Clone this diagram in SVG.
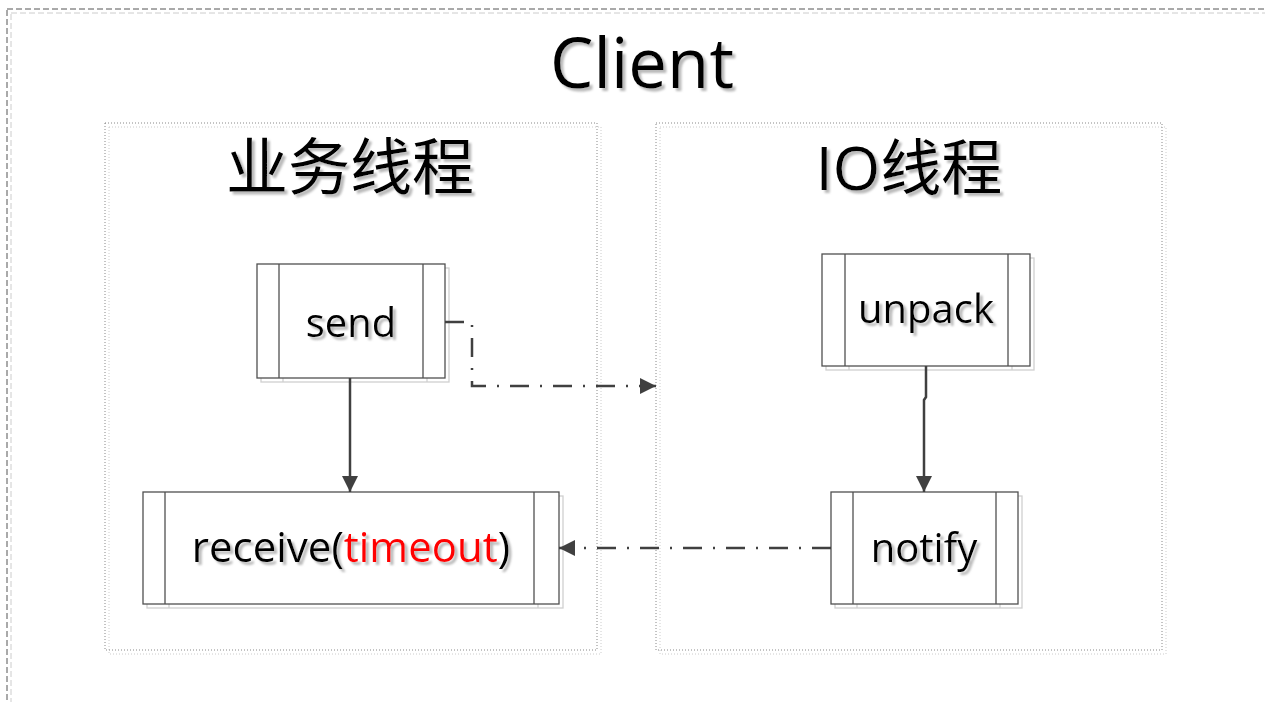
<svg xmlns="http://www.w3.org/2000/svg" width="1265" height="702" viewBox="0 0 1265 702">
<defs>
<filter id="ts" x="-10%" y="-20%" width="130%" height="150%">
<feDropShadow dx="3" dy="3" stdDeviation="1" flood-color="#a8a8a8" flood-opacity="0.8"/>
</filter>
<marker id="arr" viewBox="0 0 16 16" refX="16" refY="8" markerWidth="16" markerHeight="16" markerUnits="userSpaceOnUse" orient="auto">
<path d="M0,0 L16,8 L0,16 Z" fill="#404040"/>
</marker>
<style>
.outer{fill:none;stroke:#555;stroke-width:1;stroke-dasharray:6 3}
.outerS{fill:none;stroke:#ccc;stroke-width:1;stroke-dasharray:6 3}
.cont{fill:none;stroke:#888;stroke-width:1;stroke-dasharray:1 2}
.contS{fill:none;stroke:#ccc;stroke-width:1;stroke-dasharray:1 2}
.box{fill:#fff;stroke:#505050;stroke-width:1.3}
.boxS{fill:none;stroke:#d0d0d0;stroke-width:1.3}
.bl{stroke:#505050;stroke-width:1.3}
.blS{stroke:#d0d0d0;stroke-width:1.3}
.lbl{font-family:"Open Sans","Liberation Sans",sans-serif;font-size:40px;fill:#000;text-anchor:middle;filter:url(#ts)}
.ttl{font-family:"Open Sans","Noto Sans CJK SC",sans-serif;fill:#000;text-anchor:middle;filter:url(#ts)}
.solid{fill:none;stroke:#404040;stroke-width:2.5}
.dd{fill:none;stroke:#404040;stroke-width:2.5;stroke-dasharray:19 11 2 11}
</style>
</defs>
<rect width="1265" height="702" fill="#fff"/>

<g id="client">
<rect class="outerS" x="11" y="13" width="1270" height="700"/>
<rect class="outer" x="7" y="9" width="1270" height="700"/>
<text class="ttl" x="642" y="88" font-size="69">Client</text>
</g>

<g id="biz-thread">
<rect class="contS" x="109" y="127" width="492" height="527"/>
<rect class="cont" x="105" y="123" width="492" height="527"/>
<text class="ttl" x="350" y="190" font-size="62" style="font-family:'Noto Sans CJK SC',sans-serif">业务线程</text>
</g>

<g id="io-thread">
<rect class="contS" x="660" y="127" width="506" height="527"/>
<rect class="cont" x="656" y="123" width="506" height="527"/>
<text class="ttl" x="909" y="190" font-size="61">IO线程</text>
</g>

<g id="send">
<rect class="boxS" x="261" y="268" width="188" height="114"/>
<line class="blS" x1="283" y1="268" x2="283" y2="382"/>
<line class="blS" x1="427" y1="268" x2="427" y2="382"/>
<rect class="box" x="257" y="264" width="188" height="114"/>
<line class="bl" x1="279" y1="264" x2="279" y2="378"/>
<line class="bl" x1="423" y1="264" x2="423" y2="378"/>
<text class="lbl" x="351" y="337">send</text>
</g>

<g id="receive">
<rect class="boxS" x="147" y="496" width="416" height="112"/>
<line class="blS" x1="169" y1="496" x2="169" y2="608"/>
<line class="blS" x1="538" y1="496" x2="538" y2="608"/>
<rect class="box" x="143" y="492" width="416" height="112"/>
<line class="bl" x1="165" y1="492" x2="165" y2="604"/>
<line class="bl" x1="534" y1="492" x2="534" y2="604"/>
<text class="lbl" x="351" y="562" style="font-size:42px">receive(<tspan fill="#ff0000">timeout</tspan>)</text>
</g>

<g id="unpack">
<rect class="boxS" x="826" y="258" width="208" height="112"/>
<line class="blS" x1="849" y1="258" x2="849" y2="370"/>
<line class="blS" x1="1012" y1="258" x2="1012" y2="370"/>
<rect class="box" x="822" y="254" width="208" height="112"/>
<line class="bl" x1="845" y1="254" x2="845" y2="366"/>
<line class="bl" x1="1008" y1="254" x2="1008" y2="366"/>
<text class="lbl" x="926" y="323">unpack</text>
</g>

<g id="notify">
<rect class="boxS" x="835" y="496" width="187" height="112"/>
<line class="blS" x1="857" y1="496" x2="857" y2="608"/>
<line class="blS" x1="1000" y1="496" x2="1000" y2="608"/>
<rect class="box" x="831" y="492" width="187" height="112"/>
<line class="bl" x1="853" y1="492" x2="853" y2="604"/>
<line class="bl" x1="996" y1="492" x2="996" y2="604"/>
<text class="lbl" x="924" y="562">notify</text>
</g>

<g id="connectors">
<path class="solid" d="M350,378 L350,492" marker-end="url(#arr)"/>
<path class="dd" d="M445,322 L472,322 L472,386 L656,386" marker-end="url(#arr)"/>
<path class="solid" d="M926,366 L926,397 L924,400 L924,492" marker-end="url(#arr)"/>
<path class="dd" d="M831,548 L559,548" marker-end="url(#arr)"/>
</g>
</svg>
